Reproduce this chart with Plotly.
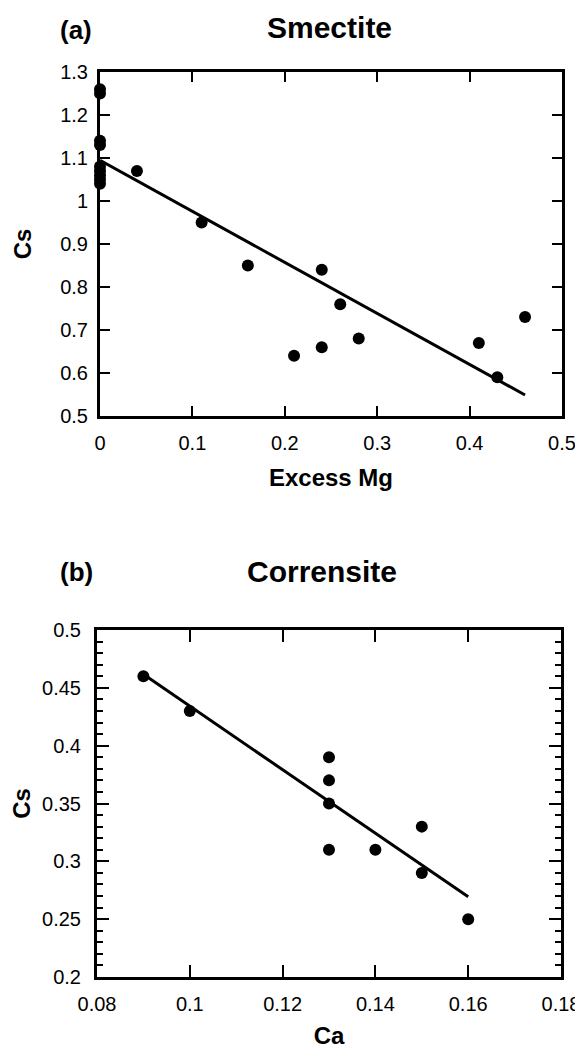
import numpy as np
import plotly.graph_objects as go

# ---------------- data ----------------
# (a) Smectite
smec_excess_mg = [0, 0, 0, 0, 0, 0, 0, 0, 0,
                  0.04, 0.11, 0.16, 0.24, 0.26, 0.21, 0.24, 0.28, 0.41, 0.43, 0.46]
smec_cs = [1.26, 1.25, 1.14, 1.13, 1.08, 1.07, 1.06, 1.05, 1.04,
           1.07, 0.95, 0.85, 0.84, 0.76, 0.64, 0.66, 0.68, 0.67, 0.59, 0.73]

# (b) Corrensite
corr_ca = [0.09, 0.10, 0.13, 0.13, 0.13, 0.13, 0.14, 0.15, 0.15, 0.16]
corr_cs = [0.46, 0.43, 0.39, 0.37, 0.35, 0.31, 0.31, 0.33, 0.29, 0.25]

# tick labels
a_xticks = [0, 0.1, 0.2, 0.3, 0.4, 0.5]
a_xlabels = ["0", "0.1", "0.2", "0.3", "0.4", "0.5"]
a_yticks = [0.5, 0.6, 0.7, 0.8, 0.9, 1.0, 1.1, 1.2, 1.3]
a_ylabels = ["0.5", "0.6", "0.7", "0.8", "0.9", "1", "1.1", "1.2", "1.3"]
b_xticks = [0.08, 0.10, 0.12, 0.14, 0.16, 0.18]
b_xlabels = ["0.08", "0.1", "0.12", "0.14", "0.16", "0.18"]
b_yticks = [0.2, 0.25, 0.3, 0.35, 0.4, 0.45, 0.5]
b_ylabels = ["0.2", "0.25", "0.3", "0.35", "0.4", "0.45", "0.5"]
b_yminor = [0.21, 0.22, 0.23, 0.24, 0.26, 0.27, 0.28, 0.29, 0.31, 0.32, 0.33, 0.34,
            0.36, 0.37, 0.38, 0.39, 0.41, 0.42, 0.43, 0.44, 0.46, 0.47, 0.48, 0.49]


def fit_line(x, y):
    x = np.asarray(x, float)
    y = np.asarray(y, float)
    m, b = np.polyfit(x, y, 1)
    xs = np.array([x.min(), x.max()])
    return xs, m * xs + b


# page body margin (8px) offsets the figure; size it to fill the window
OFF = 8
W, H = 583 - OFF, 1049 - OFF
FONT = "Liberation Sans, Arial, Helvetica, sans-serif"


def px_x(p):
    return (p - OFF) / W


def px_y(p):
    return 1 - (p - OFF) / H


fig = go.Figure()

# panel (a)
fx, fy = fit_line(smec_excess_mg, smec_cs)
fig.add_trace(go.Scatter(x=fx, y=fy, mode="lines", line=dict(color="black", width=3),
                         xaxis="x", yaxis="y", showlegend=False, cliponaxis=False))
fig.add_trace(go.Scatter(x=smec_excess_mg, y=smec_cs, mode="markers",
                         marker=dict(color="black", size=12),
                         xaxis="x", yaxis="y", showlegend=False, cliponaxis=False))

# panel (b)
gx, gy = fit_line(corr_ca, corr_cs)
fig.add_trace(go.Scatter(x=gx, y=gy, mode="lines", line=dict(color="black", width=3),
                         xaxis="x2", yaxis="y2", showlegend=False, cliponaxis=False))
fig.add_trace(go.Scatter(x=corr_ca, y=corr_cs, mode="markers",
                         marker=dict(color="black", size=12),
                         xaxis="x2", yaxis="y2", showlegend=False, cliponaxis=False))

axis_common = dict(
    showline=True, linecolor="black", linewidth=3, mirror="ticks",
    ticks="inside", tickcolor="black", tickwidth=2, ticklen=10,
    showgrid=False, zeroline=False, automargin=False,
    tickfont=dict(family=FONT, size=20, color="black"),
)
title_font = dict(family=FONT, size=24, color="black", weight="bold")

fig.update_layout(
    width=W, height=H,
    margin=dict(l=0, r=0, t=0, b=0),
    paper_bgcolor="white", plot_bgcolor="white",
    xaxis=dict(axis_common, domain=[px_x(100), px_x(562)], range=[0, 0.5],
               tickvals=a_xticks, ticktext=a_xlabels, anchor="y",
               ticklabelstandoff=7,
               title=dict(text="Excess Mg", font=title_font, standoff=17)),
    yaxis=dict(axis_common, domain=[px_y(416), px_y(72)], range=[0.5, 1.3],
               tickvals=a_yticks, ticktext=a_ylabels, anchor="x",
               ticklabelstandoff=5,
               title=dict(text="Cs", font=title_font, standoff=22)),
    xaxis2=dict(axis_common, domain=[px_x(97), px_x(561)], range=[0.08, 0.18],
                tickvals=b_xticks, ticktext=b_xlabels, anchor="y2", ticklen=12,
                ticklabelstandoff=7,
                title=dict(text="Ca", font=title_font, standoff=25)),
    yaxis2=dict(axis_common, domain=[px_y(977), px_y(630)], range=[0.2, 0.5],
                tickvals=b_yticks, ticktext=b_ylabels, anchor="x2", ticklen=12,
                ticklabelstandoff=9,
                minor=dict(ticks="inside", ticklen=6, tickwidth=1.5, tickcolor="black",
                           tickvals=b_yminor),
                title=dict(text="Cs", font=title_font, standoff=12)),
    annotations=[
        dict(text="(a)", x=px_x(58), y=px_y(30), xref="paper", yref="paper",
             xanchor="left", yanchor="middle", showarrow=False,
             font=dict(family=FONT, size=26, color="black", weight="bold")),
        dict(text="Smectite", x=px_x(329), y=px_y(28), xref="paper", yref="paper",
             xanchor="center", yanchor="middle", showarrow=False,
             font=dict(family=FONT, size=30, color="black", weight="bold")),
        dict(text="(b)", x=px_x(58), y=px_y(572), xref="paper", yref="paper",
             xanchor="left", yanchor="middle", showarrow=False,
             font=dict(family=FONT, size=26, color="black", weight="bold")),
        dict(text="Corrensite", x=px_x(322), y=px_y(571), xref="paper", yref="paper",
             xanchor="center", yanchor="middle", showarrow=False,
             font=dict(family=FONT, size=30, color="black", weight="bold")),
    ],
)

fig.write_html("out.html")
